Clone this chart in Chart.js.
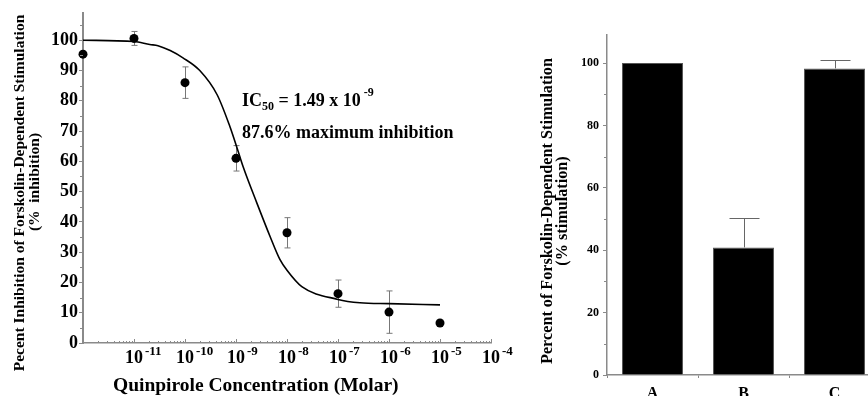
<!DOCTYPE html>
<html>
<head>
<meta charset="utf-8">
<script src="https://cdn.jsdelivr.net/npm/chart.js@4.4.1/dist/chart.umd.min.js"></script>
<style>
  html, body { margin: 0; padding: 0; background: #fff; overflow: hidden; width: 868px; height: 396px; }
  #doseChart { position: absolute; left: 0; top: 0; }
  #barChart { position: absolute; left: 520px; top: 0; }
</style>
</head>
<body>
<canvas id="doseChart" width="520" height="396"></canvas>
<canvas id="barChart" width="370" height="396"></canvas>
<script>
// measured points, x given as log10 of molar concentration
const doseExponents = [-12, -11, -10, -9, -8, -7, -6, -5];
const doseInhibition = [95.4, 100.6, 86, 61, 36.4, 16.3, 10.2, 6.6];
const doseErrors = [0, 2.3, 5.2, 4.2, 5, 4.5, 7, 0];

// fitted curve
const fitExponents = [-12, -11, -10.69, -10.53, -10.29, -10.04, -9.71, -9.37, -9.12, -9, -8.86, -8.59, -8.33, -8.14, -8, -7.71, -7, -6.57, -6, -5];
const fitInhibition = [100, 99.6, 98.6, 98.2, 96.6, 94.2, 90, 82, 71.5, 65.5, 58.2, 46.2, 35.1, 27.6, 24, 18.6, 14.4, 13.3, 13, 12.6];

const xTickExponents = [-11, -10, -9, -8, -7, -6, -5, -4];

const barLabels = ['A', 'B', 'C'];
const barValues = [100, 40.9, 98.3];
const barErrors = [0, 9.3, 2.8];

const serif = "'Liberation Serif', 'Times New Roman', serif";
const axisGray = '#8a8a8a';

function boldFont(size) {
    return 'bold ' + size + 'px ' + serif;
}

// draws a run of text pieces (for sub/superscripts), returns end x
function drawPieces(ctx, x, baseline, pieces) {
    ctx.textAlign = 'left';
    ctx.textBaseline = 'alphabetic';
    pieces.forEach(function (p) {
        ctx.font = boldFont(p.size);
        x += p.gap || 0;
        ctx.fillText(p.text, x, baseline + (p.dy || 0));
        x += ctx.measureText(p.text).width;
    });
    return x;
}

function drawVertical(ctx, text, x, y, size) {
    ctx.save();
    ctx.translate(x, y);
    ctx.rotate(-Math.PI / 2);
    ctx.font = boldFont(size);
    ctx.fillStyle = '#000';
    ctx.textAlign = 'center';
    ctx.textBaseline = 'middle';
    ctx.fillText(text, 0, 0);
    ctx.restore();
}

const doseExtras = {
    id: 'doseExtras',
    beforeDatasetsDraw(chart) {
        const ctx = chart.ctx, xs = chart.scales.x, ys = chart.scales.y;
        ctx.save();
        ctx.strokeStyle = '#777';
        ctx.lineWidth = 1;
        doseExponents.forEach(function (e, i) {
            if (!doseErrors[i]) return;
            const px = Math.round(xs.getPixelForValue(Math.pow(10, e))) + 0.5;
            const top = ys.getPixelForValue(doseInhibition[i] + doseErrors[i]);
            const bot = ys.getPixelForValue(doseInhibition[i] - doseErrors[i]);
            ctx.beginPath();
            ctx.moveTo(px, top); ctx.lineTo(px, bot);
            ctx.moveTo(px - 3, top); ctx.lineTo(px + 3, top);
            ctx.moveTo(px - 3, bot); ctx.lineTo(px + 3, bot);
            ctx.stroke();
        });
        ctx.restore();
    },
    afterDraw(chart) {
        const ctx = chart.ctx, xs = chart.scales.x, ys = chart.scales.y;
        const area = chart.chartArea;
        ctx.save();

        // minor ticks on the y axis
        ctx.strokeStyle = axisGray;
        ctx.lineWidth = 1;
        ctx.beginPath();
        ys.ticks.forEach(function (t) {
            const v = t.value + 5;
            if (v > ys.max) return;
            const py = Math.round(ys.getPixelForValue(v)) + 0.5;
            ctx.moveTo(area.left - 3, py);
            ctx.lineTo(area.left, py);
        });
        ctx.stroke();

        // log ticks on the x axis, pointing inwards
        ctx.beginPath();
        for (let e = -12; e < -4; e++) {
            for (let m = 1; m < 10; m++) {
                const px = Math.round(xs.getPixelForValue(m * Math.pow(10, e))) + 0.5;
                ctx.moveTo(px, area.bottom);
                ctx.lineTo(px, area.bottom - (m === 1 ? 4 : 2));
            }
        }
        const endPx = Math.round(xs.getPixelForValue(1e-4)) + 0.5;
        ctx.moveTo(endPx, area.bottom);
        ctx.lineTo(endPx, area.bottom - 4);
        ctx.stroke();

        // x tick labels as powers of ten
        ctx.fillStyle = '#000';
        xTickExponents.forEach(function (e) {
            const px = xs.getPixelForValue(Math.pow(10, e));
            ctx.font = boldFont(18);
            const w = ctx.measureText('10').width;
            drawPieces(ctx, px - w / 2, area.bottom + 20, [
                { text: '10', size: 18 },
                { text: String(e), size: 13, dy: -8, gap: 2 }
            ]);
        });

        // axis titles
        ctx.font = boldFont(19.5);
        ctx.textAlign = 'left';
        ctx.textBaseline = 'alphabetic';
        ctx.fillText('Quinpirole Concentration (Molar)', 113, area.bottom + 48);
        drawVertical(ctx, 'Pecent Inhibition of Forskolin-Dependent Stimulation', 20, 193, 15.5);
        drawVertical(ctx, '(%  inhibition)', 35, 182, 15.5);

        // fit annotation
        drawPieces(ctx, area.left + 159, area.top + 93, [
            { text: 'IC', size: 18 },
            { text: '50', size: 12, dy: 4 },
            { text: ' = 1.49 x 10', size: 18 },
            { text: '-9', size: 12, dy: -10, gap: 3 }
        ]);
        drawPieces(ctx, area.left + 159, area.top + 125, [
            { text: '87.6% maximum inhibition', size: 18 }
        ]);
        ctx.restore();
    }
};

const barExtras = {
    id: 'barExtras',
    afterDatasetsDraw(chart) {
        const ctx = chart.ctx, ys = chart.scales.y;
        const area = chart.chartArea;
        const meta = chart.getDatasetMeta(0);
        ctx.save();
        ctx.strokeStyle = '#666';
        ctx.lineWidth = 1;
        ctx.beginPath();
        barValues.forEach(function (v, i) {
            if (!barErrors[i]) return;
            const px = Math.round(meta.data[i].x) + 0.5;
            const base = ys.getPixelForValue(v);
            const top = Math.round(ys.getPixelForValue(v + barErrors[i])) + 0.5;
            ctx.moveTo(px, base); ctx.lineTo(px, top);
            ctx.moveTo(px - 15, top); ctx.lineTo(px + 15, top);
        });
        ctx.stroke();

        ctx.strokeStyle = axisGray;
        ctx.beginPath();
        ys.ticks.forEach(function (t) {
            const v = t.value + 10;
            if (v > ys.max) return;
            const py = Math.round(ys.getPixelForValue(v)) + 0.5;
            ctx.moveTo(area.left - 3, py);
            ctx.lineTo(area.left, py);
        });
        ctx.stroke();

        drawVertical(ctx, 'Percent of Forskolin-Dependent Stimulation', 28, 211, 16.2);
        drawVertical(ctx, '(% stimulation)', 43, 211, 16.2);
        ctx.restore();
    }
};

new Chart(document.getElementById('doseChart').getContext('2d'), {
    type: 'scatter',
    data: {
        datasets: [{
            label: 'fit',
            data: fitExponents.map(function (e, i) { return { x: Math.pow(10, e), y: fitInhibition[i] }; }),
            showLine: true,
            borderColor: '#000',
            borderWidth: 1.6,
            pointRadius: 0,
            cubicInterpolationMode: 'monotone'
        }, {
            label: 'measured',
            data: doseExponents.map(function (e, i) { return { x: Math.pow(10, e), y: doseInhibition[i] }; }),
            pointRadius: 4.5,
            backgroundColor: '#000',
            borderWidth: 0,
            clip: false
        }]
    },
    options: {
        responsive: false,
        animation: false,
        layout: { padding: { top: 13, right: 29, left: 0, bottom: 0 } },
        plugins: { legend: { display: false }, tooltip: { enabled: false } },
        scales: {
            x: {
                type: 'logarithmic',
                min: 1e-12,
                max: 1e-4,
                afterFit(s) { s.height = 53; },
                border: { color: axisGray, width: 1.5 },
                grid: { display: false },
                ticks: { display: false }
            },
            y: {
                min: 0,
                max: 109,
                afterFit(s) { s.width = 83; },
                border: { color: axisGray, width: 2 },
                grid: { drawOnChartArea: false, color: axisGray, tickLength: 4 },
                ticks: {
                    stepSize: 10,
                    includeBounds: false,
                    padding: 1,
                    color: '#000',
                    font: { family: serif, size: 18, weight: 'bold' }
                }
            }
        }
    },
    plugins: [doseExtras]
});

new Chart(document.getElementById('barChart').getContext('2d'), {
    type: 'bar',
    data: {
        labels: barLabels,
        datasets: [{
            data: barValues,
            backgroundColor: '#000',
            borderColor: '#555',
            borderWidth: 1,
            categoryPercentage: 1,
            barPercentage: 0.67
        }]
    },
    options: {
        responsive: false,
        animation: false,
        layout: { padding: { top: 35, right: 10, left: 0, bottom: 0 } },
        plugins: { legend: { display: false }, tooltip: { enabled: false } },
        scales: {
            x: {
                afterFit(s) { s.height = 21; },
                border: { color: axisGray, width: 1.5 },
                grid: { drawOnChartArea: false, color: axisGray, tickLength: 3 },
                ticks: {
                    padding: 6,
                    color: '#000',
                    font: { family: serif, size: 16, weight: 'bold' }
                }
            },
            y: {
                min: 0,
                max: 109,
                afterFit(s) { s.width = 87; },
                border: { color: axisGray, width: 1.5 },
                grid: { drawOnChartArea: false, color: axisGray, tickLength: 4 },
                ticks: {
                    stepSize: 20,
                    includeBounds: false,
                    padding: 4,
                    color: '#000',
                    font: { family: serif, size: 12, weight: 'bold' }
                }
            }
        }
    },
    plugins: [barExtras]
});
</script>
</body>
</html>
